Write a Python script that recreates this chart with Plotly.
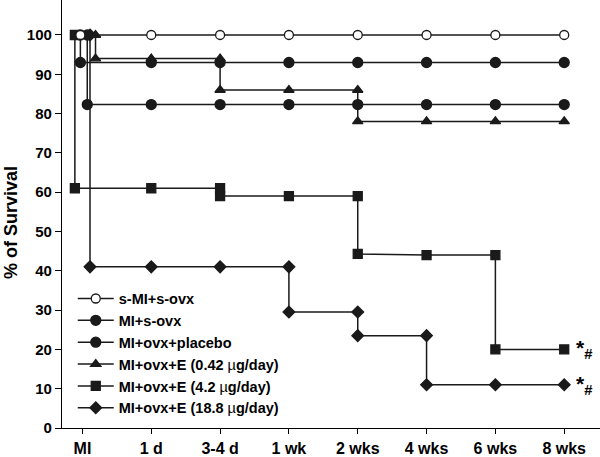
import plotly.graph_objects as go

tick_labels = ["MI", "1 d", "3-4 d", "1 wk", "2 wks", "4 wks", "6 wks", "8 wks"]

sham_x = [-0.03, 1, 2, 3, 4, 5, 6, 7]
sham_y = [100, 100, 100, 100, 100, 100, 100, 100]

mi_sovx_x = [-0.03, -0.03, 1, 2, 3, 4, 5, 6, 7]
mi_sovx_y = [100, 93, 93, 93, 93, 93, 93, 93, 93]

placebo_x = [0.07, 0.07, 1, 2, 3, 4, 5, 6, 7]
placebo_y = [100, 82.3, 82.3, 82.3, 82.3, 82.3, 82.3, 82.3, 82.3]

e042_x = [0.19, 0.19, 1, 2, 2, 3, 4, 4, 5, 6, 7]
e042_y = [100, 94, 94, 94, 86, 86, 86, 78, 78, 78, 78]

e42_x = [-0.11, -0.11, 1, 2, 2, 3, 4, 4, 5, 6, 6, 7]
e42_y = [100, 61, 61, 61, 59, 59, 59, 44.3, 44, 44, 20, 20]

e188_x = [0.11, 0.11, 1, 2, 3, 3, 4, 4, 5, 5, 6, 7]
e188_y = [100, 41, 41, 41, 41, 29.5, 29.5, 23.5, 23.5, 11, 11, 11]

INK = "#1a1a1a"
FONT = "Liberation Sans, Arial, sans-serif"


def series(x, y, name, symbol, size, fill=INK):
    return go.Scatter(
        x=x,
        y=y,
        name=name,
        mode="lines+markers",
        line=dict(color=INK, width=1.5),
        marker=dict(symbol=symbol, size=size, color=fill, line=dict(color=INK, width=1.3)),
    )


# drawn bottom-up so the open circles sit on top, legend shown reversed
fig = go.Figure(
    [
        series(e188_x, e188_y, "<b>MI+ovx+E (18.8 </b>µ<b>g/day)</b>", "diamond", 9),
        series(e42_x, e42_y, "<b>MI+ovx+E (4.2 </b>µ<b>g/day)</b>", "square", 9),
        series(e042_x, e042_y, "<b>MI+ovx+E (0.42 </b>µ<b>g/day)</b>", "triangle-up", 9),
        series(placebo_x, placebo_y, "<b>MI+ovx+placebo</b>", "circle", 10),
        series(mi_sovx_x, mi_sovx_y, "<b>MI+s-ovx</b>", "circle", 10),
        series(sham_x, sham_y, "<b>s-MI+s-ovx</b>", "circle", 9, fill="white"),
    ]
)

for yv in [20, 11]:
    fig.add_annotation(
        x=7.14, y=yv, xref="x", yref="y", xanchor="left", yanchor="middle",
        text="<b>*<sub>#</sub></b>", showarrow=False,
        font=dict(family=FONT, size=21, color="black"),
    )

# y title placed by hand, it sits a little below the middle of the axis
fig.add_annotation(
    x=-0.096, y=0.48, xref="paper", yref="paper", xanchor="center", yanchor="middle",
    text="<b>% of Survival</b>", textangle=-90, showarrow=False,
    font=dict(family=FONT, size=18, color="black"),
)

fig.update_layout(
    width=600,
    height=457,
    margin=dict(l=62, r=0, t=0, b=29),
    paper_bgcolor="white",
    plot_bgcolor="white",
    font=dict(family=FONT, color="black"),
    showlegend=True,
    legend=dict(
        traceorder="reversed",
        x=0.02, y=0.008, xanchor="left", yanchor="bottom",
        itemwidth=36,
        bgcolor="rgba(0,0,0,0)",
        font=dict(family=FONT, size=14.5, color="black"),
    ),
    xaxis=dict(
        range=[-0.297, 7.52],
        automargin=False,
        tickmode="array",
        tickvals=list(range(len(tick_labels))),
        ticktext=["<b>%s</b>" % t for t in tick_labels],
        tickfont=dict(size=16),
        ticks="outside", ticklen=5, tickcolor="black",
        ticklabelstandoff=1,
        showline=True, linecolor="black", linewidth=1.3,
        showgrid=False, zeroline=False,
    ),
    yaxis=dict(
        range=[0, 108.9],
        automargin=False,
        tickvals=list(range(0, 101, 10)),
        ticktext=["<b>%d</b>" % v for v in range(0, 101, 10)],
        tickfont=dict(size=15),
        ticks="outside", ticklen=6, tickcolor="black",
        showline=True, linecolor="black", linewidth=1.3,
        showgrid=False, zeroline=False,
    ),
)

# the page's default body margin would shift the 600x457 figure off the window
fig.write_html(
    "out.html",
    config={"displayModeBar": False},
    post_script="document.body.style.margin = '0';",
)
